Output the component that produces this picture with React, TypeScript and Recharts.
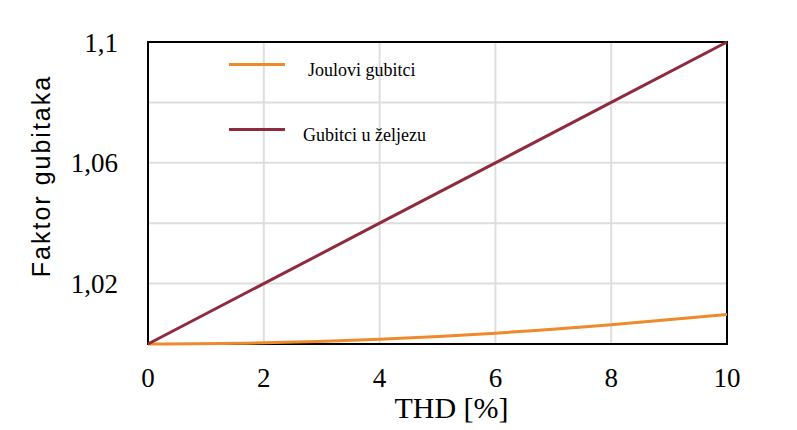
import { LineChart, Line, XAxis, YAxis, CartesianGrid, ReferenceArea, Label } from "recharts";

const thd = [0, 2, 4, 6, 8, 10];
const joule = [1.0, 1.0004, 1.0016, 1.0036, 1.0064, 1.0098];
const iron = [1.0, 1.02, 1.04, 1.06, 1.08, 1.1];
const yTicks = [1.02, 1.06, 1.1];
const xTicks = [0, 2, 4, 6, 8, 10];

const data = thd.map((t, i) => ({ thd: t, joule: joule[i], iron: iron[i] }));

const series = [
  { key: "joule", label: "Joulovi gubitci", color: "#ee8a2c" },
  { key: "iron", label: "Gubitci u željezu", color: "#8f2b3e" },
];

const serif = "'Liberation Serif', 'Times New Roman', serif";

// legend sits inside the plot, top-left, like the original figure
const LegendBox = () => (
  <div style={{ position: "absolute", left: 229, top: 54, fontFamily: serif, fontSize: 18, color: "#000" }}>
    {series.map((s, i) => (
      <div key={s.key} style={{ display: "flex", alignItems: "center", height: 20, marginBottom: i === 0 ? 45 : 0 }}>
        <span style={{ display: "inline-block", width: 56, height: 3, backgroundColor: s.color }} />
        <span style={{ marginLeft: i === 0 ? 23 : 18, position: "relative", top: 6 }}>{s.label}</span>
      </div>
    ))}
  </div>
);

const App = () => {
  return (
    <div style={{ position: "absolute", left: 0, top: 0, width: 797, height: 430, background: "#fff" }}>
      <LineChart width={797} height={430} data={data} margin={{ top: 42, right: 70, left: 0, bottom: 0 }}>
        <CartesianGrid
          stroke="#dedede"
          strokeWidth={2}
          horizontalValues={[1.02, 1.04, 1.06, 1.08]}
          verticalValues={[2, 4, 6, 8]}
        />
        <XAxis
          dataKey="thd"
          type="number"
          domain={[0, 10]}
          ticks={xTicks}
          height={86}
          tickSize={0}
          tickMargin={24}
          axisLine={false}
          tick={{ fill: "#000", fontFamily: serif, fontSize: 27 }}
        >
          <Label value="THD [%]" position="insideBottom" offset={12} dx={14} fill="#000" fontFamily={serif} fontSize={30} />
        </XAxis>
        <YAxis
          type="number"
          domain={[1.0, 1.1]}
          ticks={yTicks}
          width={148}
          tickSize={0}
          tickMargin={30}
          axisLine={false}
          tickFormatter={(v: number) => String(v).replace(".", ",")}
          tick={{ fill: "#000", fontFamily: serif, fontSize: 27 }}
        >
          <Label
            content={({ viewBox }: any) => {
              const cx = viewBox.x + 41;
              const cy = viewBox.y + viewBox.height / 2 - 17;
              return (
                <text
                  x={cx}
                  y={cy}
                  transform={`rotate(-90 ${cx} ${cy})`}
                  textAnchor="middle"
                  dominantBaseline="central"
                  fill="#000"
                  fontFamily="'Liberation Sans', Arial, sans-serif"
                  fontSize={25}
                  letterSpacing={2}
                >
                  Faktor gubitaka
                </text>
              );
            }}
          />
        </YAxis>
        <ReferenceArea x1={0} x2={10} y1={1.0} y2={1.1} fill="none" stroke="#000" strokeWidth={2} ifOverflow="visible" />
        {series.map((s) => (
          <Line
            key={s.key}
            dataKey={s.key}
            type={s.key === "joule" ? "monotone" : "linear"}
            stroke={s.color}
            strokeWidth={3}
            dot={false}
            isAnimationActive={false}
          />
        ))}
      </LineChart>
      <LegendBox />
    </div>
  );
};

export default App;
